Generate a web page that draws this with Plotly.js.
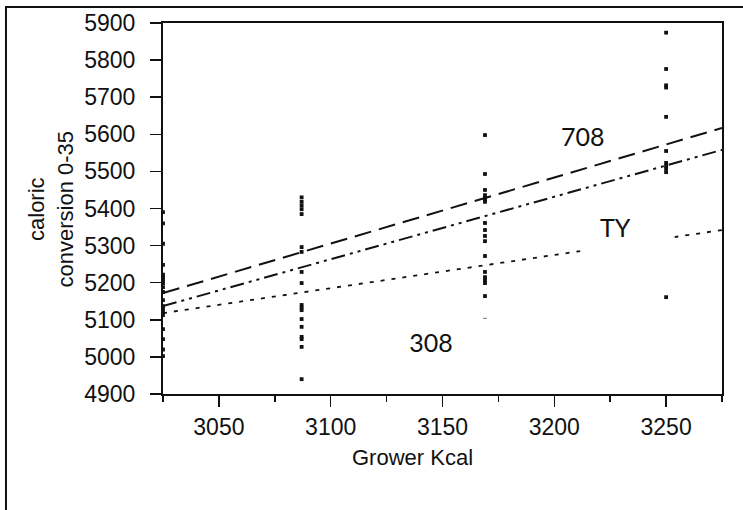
<!DOCTYPE html>
<html>
<head>
<meta charset="utf-8">
<script src="https://cdn.plot.ly/plotly-3.0.1.min.js"></script>
<style>
  html, body { margin: 0; padding: 0; background: #ffffff; }
  #chart { width: 743px; height: 510px; }
</style>
</head>
<body>
<div id="chart"></div>
<script>
// Grower diet energy levels (kcal) and individual caloric conversion, days 0-35
const x3025 = [5390, 5360, 5305, 5248, 5222, 5215, 5207, 5199, 5188, 5175, 5153, 5137, 5130, 5121, 5113, 5075, 5048, 5020, 5002];
const x3087 = [5430, 5418, 5408, 5398, 5385, 5296, 5283, 5229, 5199, 5140, 5133, 5126, 5102, 5081, 5054, 5048, 5027, 4940];
const x3169 = [5598, 5493, 5450, 5436, 5428, 5423, 5418, 5361, 5342, 5326, 5312, 5272, 5229, 5215, 5207, 5199, 5164, 5100, 5045];
const x3250 = [5874, 5776, 5732, 5726, 5647, 5555, 5523, 5515, 5507, 5498, 5431, 5161];
const kcalLevels = [3025, 3087, 3169, 3250];

// Fitted regression lines per strain, evaluated at the ends of the axis
const fitX = [3025, 3275];
const fit708 = [5172, 5617];
const fit308 = [5137, 5558];
const fitTY = [5118, 5342];

const xTicks = [3050, 3100, 3150, 3200, 3250];
const lineLabels = ['708', 'TY', '308'];

const groups = [x3025, x3087, x3169, x3250];
const ptsX = [], ptsY = [];
groups.forEach((vals, i) => {
  vals.forEach(v => { ptsX.push(kcalLevels[i]); ptsY.push(v); });
});

const tickFont = { family: 'Liberation Sans, Arial, sans-serif', size: 23, color: '#111111' };
const titleFont = { family: 'Liberation Sans, Arial, sans-serif', size: 22, color: '#111111' };
const labelFont = { family: 'Lato, Open Sans, sans-serif', size: 25, color: '#111111' };

const traces = [
  {
    x: ptsX, y: ptsY, type: 'scatter', mode: 'markers', name: 'birds',
    marker: { symbol: 'square', size: 3.8, color: '#111111' },
    hoverinfo: 'x+y'
  },
  {
    x: fitX, y: fit708, type: 'scatter', mode: 'lines', name: '708',
    line: { color: '#111111', width: 2, dash: '17px,8px' }
  },
  {
    x: fitX, y: fit308, type: 'scatter', mode: 'lines', name: '308',
    line: { color: '#111111', width: 2, dash: '14px,5px,3px,5px,3px,5px' }
  },
  {
    x: fitX, y: fitTY, type: 'scatter', mode: 'lines', name: 'TY',
    line: { color: '#111111', width: 1.8, dash: '4px,7px' }
  }
];

const layout = {
  width: 743,
  height: 510,
  margin: { l: 163, r: 21, t: 23, b: 116, pad: 0 },
  paper_bgcolor: '#ffffff',
  plot_bgcolor: '#ffffff',
  showlegend: false,
  xaxis: {
    range: [3025, 3275],
    tickvals: xTicks,
    ticktext: xTicks.map(String),
    ticks: 'outside', ticklen: 11, tickwidth: 1.5, tickcolor: '#111111',
    ticklabelstandoff: 0,
    minor: { tick0: 3025, dtick: 25, ticks: 'outside', ticklen: 6, tickwidth: 1.5, tickcolor: '#111111', showgrid: false },
    showline: true, linewidth: 2, linecolor: '#111111', mirror: true,
    showgrid: false, zeroline: false,
    tickfont: tickFont
  },
  yaxis: {
    range: [4900, 5900],
    dtick: 100, tick0: 4900,
    ticks: 'outside', ticklen: 11, tickwidth: 1.5, tickcolor: '#111111',
    ticklabelstandoff: 10,
    showline: true, linewidth: 2, linecolor: '#111111', mirror: true,
    showgrid: false, zeroline: false,
    tickfont: tickFont
  },
  shapes: [
    {
      type: 'rect', xref: 'paper', yref: 'paper',
      x0: -0.2809, x1: 1.0412, y0: -0.318, y1: 1.0431,
      line: { color: '#111111', width: 2 }, fillcolor: 'rgba(0,0,0,0)', layer: 'below'
    }
  ],
  annotations: [
    {
      text: 'Grower Kcal', xref: 'paper', yref: 'paper',
      x: 0.447, y: -0.172, xanchor: 'center', yanchor: 'middle',
      showarrow: false, font: titleFont
    },
    {
      text: 'caloric<br>conversion 0-35', xref: 'paper', yref: 'paper',
      x: -0.2004, y: 0.5, xanchor: 'center', yanchor: 'middle',
      textangle: -90, showarrow: false, font: titleFont
    },
    {
      text: lineLabels[0], x: 3213, y: 5595, xref: 'x', yref: 'y',
      xanchor: 'center', yanchor: 'middle', showarrow: false, font: labelFont
    },
    {
      text: lineLabels[1], x: 3211.5, y: 5349, xref: 'x', yref: 'y',
      xanchor: 'left', yanchor: 'middle', align: 'left', width: 55, borderpad: 19,
      bgcolor: '#ffffff', showarrow: false, font: labelFont
    },
    {
      text: lineLabels[2], x: 3145, y: 5040, xref: 'x', yref: 'y',
      xanchor: 'center', yanchor: 'middle', width: 96, borderpad: 8,
      bgcolor: '#ffffff', showarrow: false, font: labelFont
    }
  ]
};

Plotly.newPlot('chart', traces, layout, { displayModeBar: false, staticPlot: true });
</script>
</body>
</html>
